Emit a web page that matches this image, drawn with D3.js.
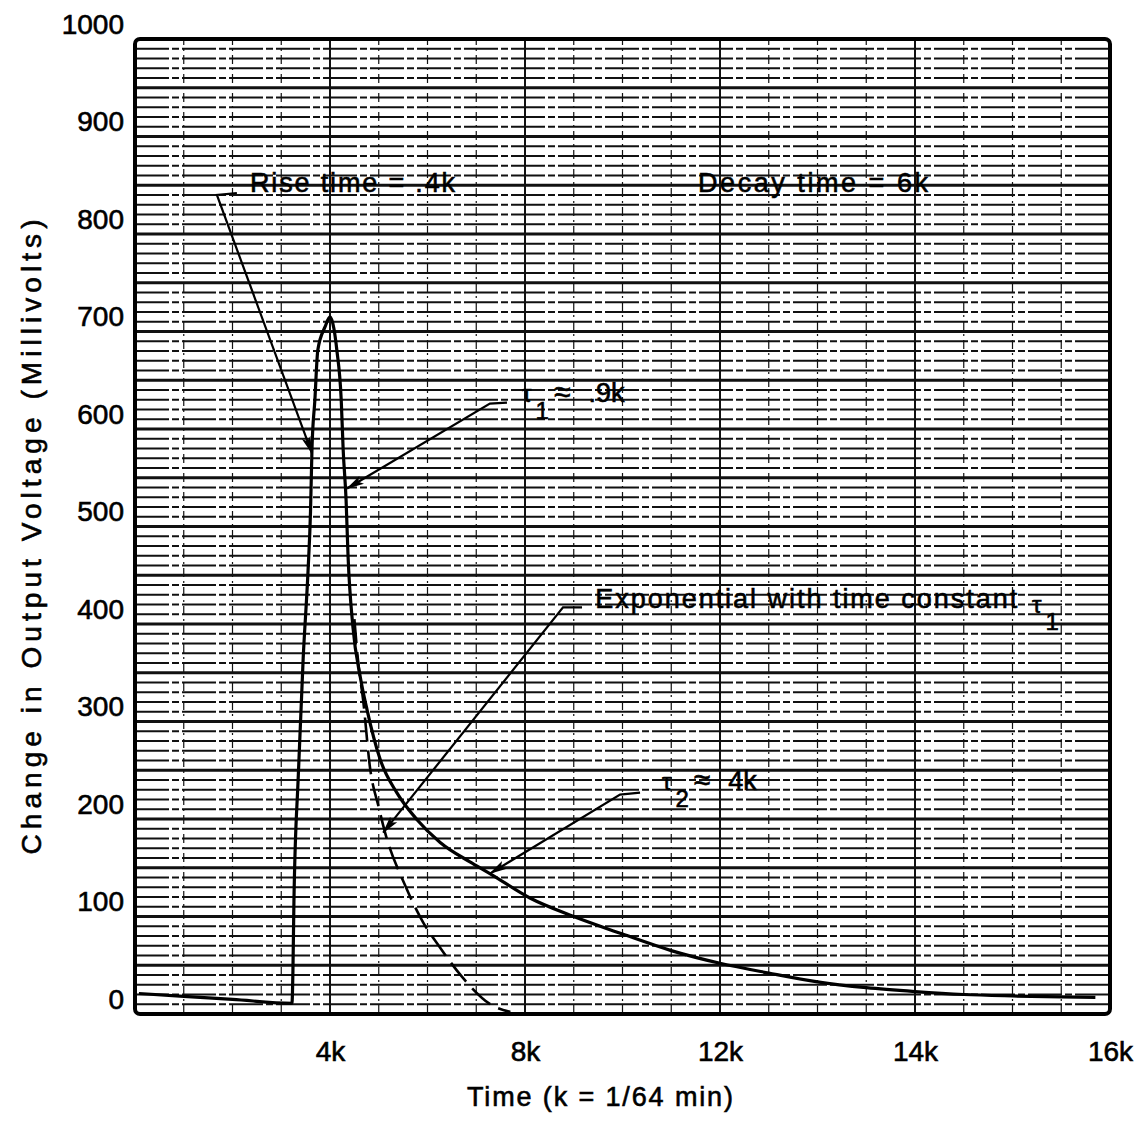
<!DOCTYPE html>
<html>
<head>
<meta charset="utf-8">
<script src="https://cdn.jsdelivr.net/npm/d3@7"></script>
<style>
  body { margin: 0; background: #fff; }
  svg { display: block; }
  text { font-family: "Liberation Sans", Arial, sans-serif; fill: #000; stroke: #000; stroke-width: 0.6; }
</style>
</head>
<body>
<div id="chart"></div>
<script>
// output voltage change (time in k, mV)
var timeK = [0.08, 1, 2, 3.22, 3.24, 3.26, 3.35, 3.45, 3.55, 3.6, 3.63, 3.69, 3.75, 3.9, 4.0,
  4.08, 4.14, 4.23, 4.27, 4.33, 4.37, 4.47, 4.62, 4.76, 5.03, 5.37, 5.79, 6.26, 6.87, 7.28,
  8.1, 9, 10, 11, 12, 13, 14, 15, 16, 17, 18, 19, 19.7];
var millivolts = [6, 3, 0, -4, 30, 100, 230, 350, 440, 500, 564, 615, 666, 690, 700,
  688, 666, 615, 564, 512, 455, 382, 331, 297, 246, 212, 184, 161, 141, 129,
  104, 85, 67, 50, 37, 27, 18, 12, 8, 5, 3.5, 2.5, 2];

// dashed exponential, time constant tau1
var fitTimeK = [4.5, 4.58, 4.68, 4.82, 5.0, 5.13, 5.54, 5.91, 6.26, 6.71, 7.32, 7.7];
var fitMillivolts = [390, 345, 307, 238, 197, 171, 117, 79, 53, 23, -6, -13];

var yTicks = [0, 100, 200, 300, 400, 500, 600, 700, 800, 900, 1000];
var xTicks = [4, 8, 12, 16, 20];
var xTickLabels = ["4k", "8k", "12k", "14k", "16k"];

var width = 1139, height = 1141;
var svg = d3.select('#chart').append('svg').attr('width', width).attr('height', height);

var x = d3.scaleLinear().domain([0, 20]).range([135, 1110]);
var y = d3.scaleLinear().domain([-15, 985]).range([1014, 39]);

var defs = svg.append('defs');
defs.append('marker').attr('id', 'head')
  .attr('markerUnits', 'userSpaceOnUse')
  .attr('viewBox', '0 0 18 10').attr('refX', 17).attr('refY', 5)
  .attr('markerWidth', 18).attr('markerHeight', 10)
  .attr('orient', 'auto')
  .append('path').attr('d', 'M0,0.5 L18,5 L0,9.5 L4,5 Z').attr('fill', '#000');

// graph paper rulings
var grid = svg.append('g');
d3.range(-5, 985, 10).forEach(function (v, i) {
  var heavy = (i + 1) % 5 == 0;
  grid.append('line')
    .attr('x1', x(0)).attr('x2', x(20)).attr('y1', y(v)).attr('y2', y(v))
    .attr('stroke', '#111')
    .attr('stroke-width', heavy ? 2.8 : 1.8)
    .attr('stroke-dasharray', heavy ? null : '34,3,7,3');
});
d3.range(1, 20).forEach(function (k) {
  var heavy = k % 4 == 0;
  grid.append('line')
    .attr('x1', x(k)).attr('x2', x(k)).attr('y1', y(-15)).attr('y2', y(985))
    .attr('stroke', '#111')
    .attr('stroke-width', heavy ? 2 : 1.2)
    .attr('stroke-dasharray', heavy ? null : '9,4,2,4');
});

svg.append('rect')
  .attr('x', x(0)).attr('y', y(985))
  .attr('width', x(20) - x(0)).attr('height', y(-15) - y(985))
  .attr('rx', 5).attr('fill', 'none').attr('stroke', '#000').attr('stroke-width', 4);

// axes
var yAxis = svg.append('g').attr('transform', 'translate(' + x(0) + ',0)')
  .call(d3.axisLeft(y).tickValues(yTicks).tickFormat(d3.format('d')).tickSize(0).tickPadding(11));
var xAxis = svg.append('g').attr('transform', 'translate(0,' + y(-15) + ')')
  .call(d3.axisBottom(x).tickValues(xTicks).tickFormat(function (d, i) { return xTickLabels[i]; })
    .tickSize(0).tickPadding(27));
[yAxis, xAxis].forEach(function (a) {
  a.select('.domain').remove();
  a.attr('font-family', '"Liberation Sans", Arial, sans-serif').attr('font-size', 28);
  a.selectAll('text').attr('fill', '#000');
});

svg.append('text').attr('x', 600).attr('y', 1106).attr('text-anchor', 'middle')
  .attr('font-size', 27).attr('textLength', 266).attr('lengthAdjust', 'spacing')
  .text('Time (k = 1/64 min)');
svg.append('text').attr('transform', 'translate(41,537) rotate(-90)').attr('text-anchor', 'middle')
  .attr('font-size', 28).attr('textLength', 635).attr('lengthAdjust', 'spacing')
  .text('Change in Output Voltage (Millivolts)');

// curves
var line = d3.line().x(function (d) { return x(d[0]); }).y(function (d) { return y(d[1]); })
  .curve(d3.curveMonotoneX);
svg.append('path').datum(d3.zip(timeK, millivolts))
  .attr('d', line).attr('fill', 'none').attr('stroke', '#000').attr('stroke-width', 3.2);
svg.append('path').datum(d3.zip(fitTimeK, fitMillivolts))
  .attr('d', line).attr('fill', 'none').attr('stroke', '#000').attr('stroke-width', 2.6)
  .attr('stroke-dasharray', '24,9');

// annotations and leaders
var leaders = [
  [[2.09, 827], [1.68, 825], [3.63, 560]],
  [[7.63, 612], [7.28, 611], [4.35, 524]],
  [[9.17, 402], [8.78, 402], [5.09, 171]],
  [[10.36, 212], [9.95, 210], [7.28, 129]]
];
var straight = d3.line().x(function (d) { return x(d[0]); }).y(function (d) { return y(d[1]); });
leaders.forEach(function (pts) {
  svg.append('path').attr('d', straight(pts)).attr('fill', 'none')
    .attr('stroke', '#000').attr('stroke-width', 2.2).attr('marker-end', 'url(#head)');
});

svg.append('text').attr('x', x(2.36)).attr('y', y(828)).attr('font-size', 27)
  .attr('textLength', 205).attr('lengthAdjust', 'spacing').text('Rise time = .4k');
svg.append('text').attr('x', x(11.55)).attr('y', y(828)).attr('font-size', 27)
  .attr('textLength', 230).attr('lengthAdjust', 'spacing').text('Decay time = 6k');
svg.append('text').attr('x', x(9.44)).attr('y', y(401.5)).attr('font-size', 27)
  .attr('textLength', 422).attr('lengthAdjust', 'spacing').text('Exponential with time constant');

function tauLabel(k, v, sub, rest, restDx) {
  var t = svg.append('text').attr('x', x(k)).attr('y', y(v)).attr('font-size', 27);
  t.append('tspan').attr('font-size', 24).text('τ');
  t.append('tspan').attr('font-size', 24).attr('dx', 4).attr('dy', 17).text(sub);
  if (rest) {
    t.append('tspan').attr('font-size', 30).attr('dx', 5).attr('dy', -17).text('≈');
    t.append('tspan').attr('dx', restDx).text(rest);
  }
}
tauLabel(7.94, 613, '1', '.9k', 18);
tauLabel(10.81, 215, '2', '4k', 18);
tauLabel(18.4, 396, '1', null, 0);
</script>
</body>
</html>
